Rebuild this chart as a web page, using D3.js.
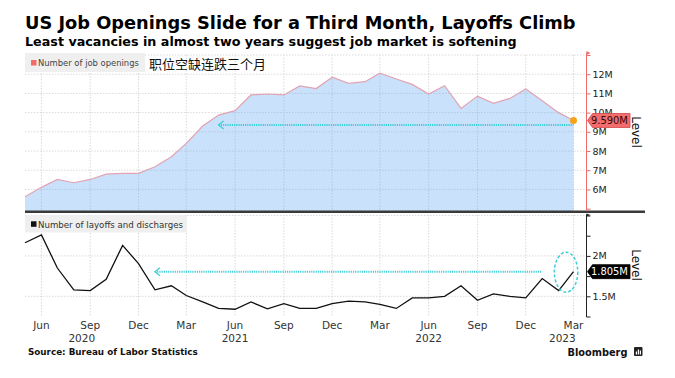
<!DOCTYPE html>
<html><head><meta charset="utf-8">
<script src="https://cdn.jsdelivr.net/npm/d3@7"></script>
<style>body{margin:0;background:#fff}svg{display:block}</style>
</head><body><svg id="c" width="675" height="378"></svg>
<script>
const months = ["2020-05","2020-06","2020-07","2020-08","2020-09","2020-10","2020-11","2020-12",
"2021-01","2021-02","2021-03","2021-04","2021-05","2021-06","2021-07","2021-08","2021-09","2021-10","2021-11","2021-12",
"2022-01","2022-02","2022-03","2022-04","2022-05","2022-06","2022-07","2022-08","2022-09","2022-10","2022-11","2022-12",
"2023-01","2023-02","2023-03"];
const openings = [5.62,6.11,6.52,6.35,6.52,6.80,6.84,6.84,
7.18,7.70,8.40,9.30,9.87,10.10,10.92,10.97,10.92,11.39,11.25,11.84,
11.52,11.61,12.05,11.75,11.47,10.97,11.40,10.22,10.86,10.48,10.74,11.23,
10.62,10.00,9.59];
const layoffs = [2.163,2.26,1.85,1.58,1.57,1.71,2.13,1.905,
1.58,1.63,1.51,1.43,1.35,1.34,1.43,1.345,1.41,1.35,1.35,1.41,
1.44,1.43,1.40,1.35,1.48,1.48,1.50,1.63,1.45,1.53,1.50,1.48,
1.72,1.57,1.805];
const xTickDates = ["2020-06","2020-09","2020-12","2021-03","2021-06","2021-09","2021-12","2022-03","2022-06","2022-09","2022-12","2023-03"];
const xTickLabels = ["Jun","Sep","Dec","Mar","Jun","Sep","Dec","Mar","Jun","Sep","Dec","Mar"];
const yearLabels = ["2020","2021","2022","2023"];
const yearDates = ["2020-08-16","2021-06-01","2022-06-01","2023-02-08"];
const topTicks = [5,6,7,8,9,10,11,12,13];
const topTickLabels = ["","6M","7M","8M","9M","10M","11M","12M",""];
const topGrid = [6,7,8,9,10,11,12,13];
const botTicks = [1.25,1.5,1.75,2,2.25,2.5];
const botTickLabels = ["","1.5M","","2M","",""];
const botGrid = [1.5,2,2.5];
const lastOpen = "9.590M", lastLay = "1.805M";
const refTop = {from:"2021-05-01", to:"2023-03-01", v:9.35};
const refBot = {from:"2021-01-01", to:"2023-01-01", v:1.805};
const ellipseAt = {d:"2023-02-15", v:1.805};

const parse = d3.timeParse("%Y-%m"), parseD = d3.timeParse("%Y-%m-%d");
const dates = months.map(parse);
const svg = d3.select("#c");
const F = "'DejaVu Sans', Verdana, sans-serif";

const x = d3.scaleTime().domain([parse("2020-05"), parse("2023-03")]).range([25, 573.5]);
const yT = d3.scaleLinear().domain([4.8, 13]).range([212.5, 55]);
const yB = d3.scaleLinear().domain([1.25, 2.5]).range([316.5, 215.5]);
const axX = 586.5;

function fit(sel, w){ const n = sel.node(); const fs = parseFloat(sel.attr("font-size")); const l = n.getComputedTextLength(); sel.attr("font-size", fs*w/l); return sel; }

// Title
fit(svg.append("text").attr("x",25).attr("y",29).attr("font-family",F).attr("font-weight","bold").attr("font-size",19).attr("fill","#000")
  .text("US Job Openings Slide for a Third Month, Layoffs Climb"), 551);
fit(svg.append("text").attr("x",25).attr("y",46).attr("font-family",F).attr("font-weight","bold").attr("font-size",14).attr("fill","#000")
  .text("Least vacancies in almost two years suggest job market is softening"), 492);

// Grids
const grid = svg.append("g").attr("stroke","#d9d9d9").attr("stroke-dasharray","1.5,1.5").attr("stroke-width",1);
topGrid.forEach(t=>grid.append("line").attr("x1",25).attr("x2",axX).attr("y1",yT(t)).attr("y2",yT(t)));
botGrid.forEach(t=>grid.append("line").attr("x1",25).attr("x2",axX).attr("y1",yB(t)).attr("y2",yB(t)));
xTickDates.forEach(d=>{
  const xx = x(parse(d));
  grid.append("line").attr("x1",xx).attr("x2",xx).attr("y1",55).attr("y2",210);
  grid.append("line").attr("x1",xx).attr("x2",xx).attr("y1",215).attr("y2",316.5);
});

// Top area
const areaGen = d3.area().x((d,i)=>x(dates[i])).y0(211).y1(d=>yT(d));
svg.append("path").datum(openings).attr("fill","#c9e1fa").attr("d", areaGen);
// grid lines seen through the area
svg.append("clipPath").attr("id","ac").append("path").datum(openings).attr("d", areaGen);
const g2 = svg.append("g").attr("clip-path","url(#ac)").attr("stroke","#b3c9e0").attr("stroke-dasharray","1.5,1.5");
xTickDates.forEach(d=>{ const xx=x(parse(d)); g2.append("line").attr("x1",xx).attr("x2",xx).attr("y1",55).attr("y2",210);});
topGrid.forEach(t=>g2.append("line").attr("x1",25).attr("x2",axX).attr("y1",yT(t)).attr("y2",yT(t)));
svg.append("path").datum(openings).attr("fill","none").attr("stroke","#e2a3b4").attr("stroke-width",1.2)
  .attr("d", d3.line().x((d,i)=>x(dates[i])).y(d=>yT(d)));

// Top cyan reference
const cyan = "#3ccfd6";
svg.append("line").attr("x1",x(parseD(refTop.from))).attr("x2",x(parseD(refTop.to))).attr("y1",yT(refTop.v)).attr("y2",yT(refTop.v))
  .attr("stroke",cyan).attr("stroke-width",2).attr("stroke-dasharray","1.2,1");
svg.append("path").attr("fill","none").attr("stroke",cyan).attr("stroke-width",1.3)
  .attr("d",`M${x(parseD(refTop.from))+5},${yT(refTop.v)-4} L${x(parseD(refTop.from))},${yT(refTop.v)} L${x(parseD(refTop.from))+5},${yT(refTop.v)+4}`);

// orange dot
svg.append("circle").attr("cx",x(dates[dates.length-1])).attr("cy",yT(openings[openings.length-1])).attr("r",3.5).attr("fill","#f7a21b");

// top legend
svg.append("rect").attr("x",25).attr("y",53).attr("width",120).attr("height",19).attr("fill","#efefef");
svg.append("rect").attr("x",31).attr("y",60).attr("width",5.5).attr("height",5.5).attr("fill","#f26a6a");
fit(svg.append("text").attr("x",38).attr("y",66).attr("font-family",F).attr("font-size",8).attr("fill","#444").text("Number of job openings"),101);
svg.append("text").attr("x",149).attr("y",68.5).attr("font-family","'Noto Sans CJK SC', sans-serif").attr("font-size",13).attr("fill","#111").text("职位空缺连跌三个月");

// separator
svg.append("line").attr("x1",25).attr("x2",645).attr("y1",211.7).attr("y2",211.7).attr("stroke","#3a3a3a").attr("stroke-width",2.5);

// Top axis (red)
const red = "#f06b6b";
const ta = svg.append("g").attr("transform",`translate(${axX},0)`)
  .call(d3.axisRight(yT).tickValues(topTicks).tickFormat((d,i)=>topTickLabels[i]).tickSize(4).tickPadding(2));
ta.select(".domain").remove();
ta.selectAll(".tick line").attr("stroke",red);
ta.selectAll(".tick text").attr("font-family",F).attr("font-size",9.5).attr("fill","#222");
svg.append("line").attr("x1",axX).attr("x2",axX).attr("y1",53).attr("y2",210.5).attr("stroke",red).attr("stroke-width",1);
svg.append("path").attr("d",`M${axX},51 L${axX+4},53 L${axX},55 Z`).attr("fill",red);
svg.append("path").attr("d",`M${axX},213.5 L${axX+4},215 L${axX},216.5 Z`).attr("fill","#222");

// value label
function valueLabel(yv, txt, fill, stroke, tcol){
  const g = svg.append("g");
  g.append("path").attr("d",`M${axX+1},${yv} L${axX+6},${yv-7} L630,${yv-7} L630,${yv+7} L${axX+6},${yv+7} Z`)
    .attr("fill",fill).attr("stroke",stroke).attr("stroke-width",0.8);
  fit(g.append("text").attr("x",591).attr("y",yv+3.6).attr("font-family",F).attr("font-size",10).attr("fill",tcol).text(txt),37);
}
valueLabel(yT(openings[openings.length-1]), lastOpen, "#f26d6d", "#d24848", "#3a0606");

// Level labels
function levelLabel(cy){
  svg.append("text").attr("transform",`translate(632,${cy}) rotate(90)`).attr("text-anchor","middle")
    .attr("font-family",F).attr("font-size",12).attr("fill","#111").text("Level");
}
levelLabel(132);
levelLabel(265);

// Bottom legend
svg.append("rect").attr("x",25).attr("y",215.5).attr("width",162).attr("height",17).attr("fill","#efefef");
svg.append("rect").attr("x",31).attr("y",221.3).attr("width",5.5).attr("height",5.5).attr("fill","#111");
fit(svg.append("text").attr("x",38).attr("y",227.5).attr("font-family",F).attr("font-size",8).attr("fill","#333").text("Number of layoffs and discharges"),145);

// bottom line
svg.append("path").datum(layoffs).attr("fill","none").attr("stroke","#111").attr("stroke-width",1.3)
  .attr("d", d3.line().x((d,i)=>x(dates[i])).y(d=>yB(d)));

// bottom cyan ref
svg.append("line").attr("x1",x(parseD(refBot.from))).attr("x2",x(parseD(refBot.to))).attr("y1",yB(refBot.v)).attr("y2",yB(refBot.v))
  .attr("stroke",cyan).attr("stroke-width",2).attr("stroke-dasharray","1.2,1");
svg.append("path").attr("fill","none").attr("stroke",cyan).attr("stroke-width",1.3)
  .attr("d",`M${x(parseD(refBot.from))+5},${yB(refBot.v)-4} L${x(parseD(refBot.from))},${yB(refBot.v)} L${x(parseD(refBot.from))+5},${yB(refBot.v)+4}`);
svg.append("ellipse").attr("cx",x(parseD(ellipseAt.d))).attr("cy",yB(ellipseAt.v)+0.5).attr("rx",11.7).attr("ry",20)
  .attr("fill","none").attr("stroke",cyan).attr("stroke-width",1.5).attr("stroke-dasharray","3,2");

// bottom axis
const ba = svg.append("g").attr("transform",`translate(${axX},0)`)
  .call(d3.axisRight(yB).tickValues(botTicks).tickFormat((d,i)=>botTickLabels[i]).tickSize(4).tickPadding(2));
ba.select(".domain").remove();
ba.selectAll(".tick line").attr("stroke","#222");
ba.selectAll(".tick text").attr("font-family",F).attr("font-size",9.5).attr("fill","#222");
svg.append("line").attr("x1",axX).attr("x2",axX).attr("y1",214.5).attr("y2",317).attr("stroke","#222");
valueLabel(yB(layoffs[layoffs.length-1]), lastLay, "#000", "#000", "#fff");

// X axis labels
const xa = svg.append("g").attr("font-family",F).attr("font-size",10.5).attr("fill","#333").attr("text-anchor","middle");
xTickDates.forEach((d,i)=>xa.append("text").attr("x",x(parse(d))).attr("y",329).text(xTickLabels[i]));
yearDates.forEach((d,i)=>xa.append("text").attr("x",x(parseD(d))).attr("y",342).text(yearLabels[i]));

// footer
fit(svg.append("text").attr("x",28).attr("y",355).attr("font-family",F).attr("font-weight","bold").attr("font-size",8.5).attr("fill","#111")
  .text("Source: Bureau of Labor Statistics"),170);
fit(svg.append("text").attr("x",567.5).attr("y",356).attr("font-family",F).attr("font-weight","bold").attr("font-size",12).attr("fill","#111")
  .text("Bloomberg"),60);
const ic = svg.append("g");
ic.append("rect").attr("x",634).attr("y",347).attr("width",8.5).attr("height",9).attr("rx",1).attr("fill","#222");
[[635.8,351.5,3],[637.8,349.5,5],[639.8,350.5,4]].forEach(b=>ic.append("rect").attr("x",b[0]).attr("y",b[1]).attr("width",1.2).attr("height",b[2]).attr("fill","#fff"));
</script></body></html>
